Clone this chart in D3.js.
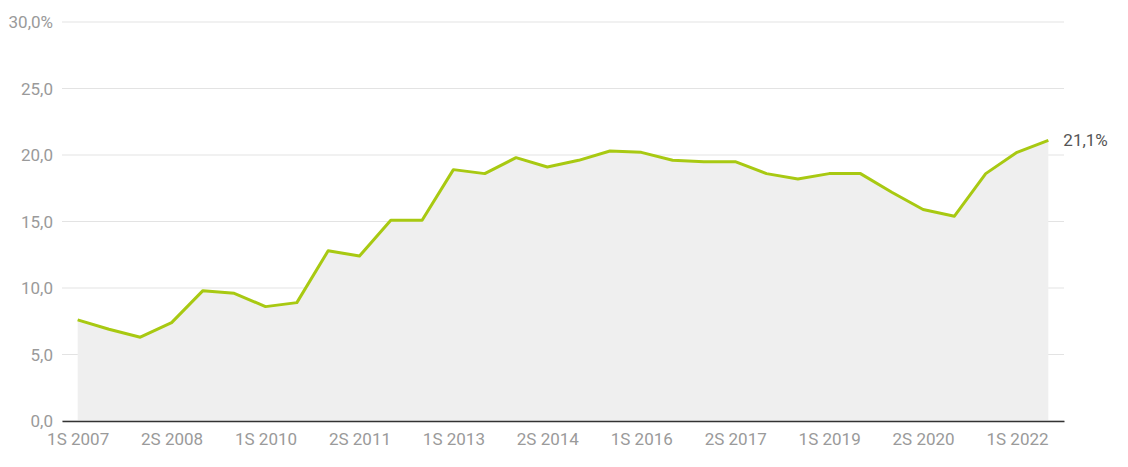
<!DOCTYPE html>
<html>
<head>
<meta charset="utf-8">
<script src="https://cdn.jsdelivr.net/npm/d3@7"></script>
<style>
  body { margin: 0; background: #fff; }
  svg { display: block; font-family: Roboto, sans-serif; }
</style>
</head>
<body>
<svg width="1128" height="467"></svg>
<script>
// semesters 1S 2007 .. 2S 2022
var periods = [];
for (var yr = 2007; yr <= 2022; yr++) { periods.push("1S " + yr); periods.push("2S " + yr); }

var values = [7.6, 6.9, 6.3, 7.4, 9.8, 9.6, 8.6, 8.9, 12.8, 12.4,
	15.1, 15.1, 18.9, 18.6, 19.8, 19.1, 19.6, 20.3, 20.2, 19.6,
	19.5, 19.5, 18.6, 18.2, 18.6, 18.6, 17.2, 15.9, 15.4, 18.6,
	20.2, 21.1];

var yTicks = [0, 5, 10, 15, 20, 25, 30];
var lastLabel = "21,1%";

function drawChart() {
	var svg = d3.select("svg"),
		margin = { left: 62, right: 1064, top: 22, bottom: 421 };

	var x = d3.scalePoint().domain(periods).range([margin.left, margin.right]).padding(0.5);
	var y = d3.scaleLinear().domain([0, 30]).range([margin.bottom, margin.top]);

	var data = periods.map(function (p, i) { return { p: p, v: values[i] }; });

	// grid
	svg.append("g").selectAll("line")
		.data(yTicks)
		.enter().append("line")
		.attr("x1", margin.left).attr("x2", margin.right)
		.attr("y1", function (d) { return y(d) }).attr("y2", function (d) { return y(d) })
		.attr("stroke", "#e3e3e3").attr("stroke-width", 1);

	// y labels
	svg.append("g").selectAll("text")
		.data(yTicks)
		.enter().append("text")
		.attr("x", 53)
		.attr("y", function (d) { return y(d) + 6 })
		.attr("text-anchor", "end")
		.attr("fill", "#9a9a9a")
		.attr("font-size", "17px")
		.text(function (d) { return d3.format(".1f")(d).replace(".", ",") + (d === 30 ? "%" : "") });

	// area
	var area = d3.area()
		.x(function (d) { return x(d.p) })
		.y0(y(0))
		.y1(function (d) { return y(d.v) });

	svg.append("path")
		.datum(data)
		.attr("fill", "#efefef")
		.attr("d", area);

	// x axis
	var xAxis = d3.axisBottom(x)
		.tickValues(periods.filter(function (d, i) { return i % 3 === 0 }))
		.tickSize(0).tickPadding(12);

	var gx = svg.append("g")
		.attr("transform", "translate(0," + margin.bottom + ")")
		.call(xAxis);
	gx.select(".domain").attr("stroke", "#333").attr("stroke-width", 1.5);
	gx.selectAll("text")
		.attr("fill", "#9a9a9a")
		.attr("font-size", "17px")
		.attr("font-family", "Roboto, sans-serif");

	// line
	var line = d3.line()
		.x(function (d) { return x(d.p) })
		.y(function (d) { return y(d.v) });

	svg.append("path")
		.datum(data)
		.attr("fill", "none")
		.attr("stroke", "#a8c912")
		.attr("stroke-width", 3)
		.attr("stroke-linejoin", "round")
		.attr("d", line);

	// end label
	var last = data[data.length - 1];
	svg.append("text")
		.attr("x", x(last.p) + 15)
		.attr("y", y(last.v) + 6)
		.attr("fill", "#555")
		.attr("font-size", "17px")
		.text(lastLabel);
}

drawChart();
</script>
</body>
</html>
